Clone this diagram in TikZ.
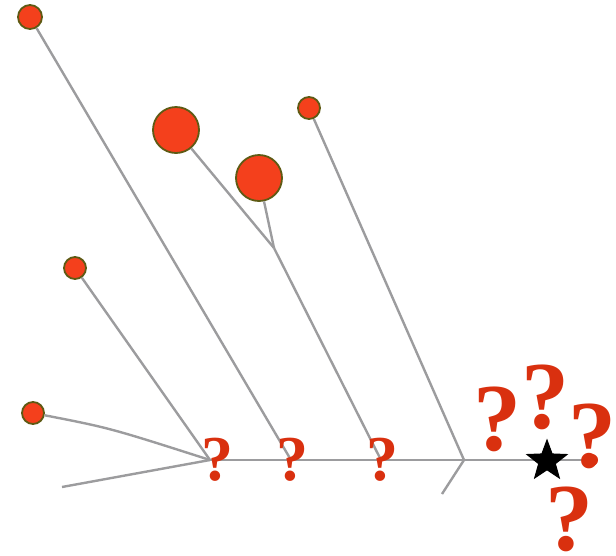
\documentclass[tikz,border=0pt]{standalone}
\usepackage{fontspec}
\newfontfamily\qfont{Liberation Serif}
\usetikzlibrary{shapes.geometric}
\definecolor{dotred}{HTML}{F4401C}
\definecolor{dotrim}{HTML}{5E5A14}
\definecolor{qred}{HTML}{D9300F}
\definecolor{linegrey}{HTML}{9C9C9E}
\tikzset{
  dot/.style={circle,fill=dotred,draw=dotrim,line width=1.8pt,inner sep=0pt,minimum size=#1},
  branch/.style={draw=linegrey,line width=2.4pt},
  qsmall/.style={text=qred,inner sep=0pt,anchor=base,text depth=0pt,font=\qfont\bfseries\fontsize{64}{64}\selectfont},
  qbig/.style={text=qred,inner sep=0pt,anchor=base,text depth=0pt,font=\qfont\bfseries\fontsize{96}{96}\selectfont},
}
\begin{document}
\begin{tikzpicture}[x=1pt,y=-1pt]
\useasboundingbox (0,0) rectangle (616,555);
% junction coordinates
\coordinate (j1) at (210,460);
\coordinate (j2) at (291,460);
\coordinate (j3) at (381,460);
\coordinate (j4) at (464,460);
\coordinate (jm) at (274,248);
\coordinate (tail) at (62,487);
\coordinate (kink) at (442,494);
% dots
\node[dot=24pt] (d1) at (30,17) {};
\node[dot=46pt] (d2) at (176,130) {};
\node[dot=46pt] (d3) at (259,178) {};
\node[dot=22pt] (d4) at (309,108) {};
\node[dot=22pt] (d5) at (75,268) {};
\node[dot=22pt] (d6) at (33,413) {};
\node[dot=12pt,draw=none,fill=qred] (end) at (592,460) {};
% connectors
\draw[branch] (j1) -- (end);
\draw[branch] (j1) -- (tail);
\draw[branch] (d6) .. controls (110,428) .. (j1);
\draw[branch] (d5) -- (j1);
\draw[branch] (d1) -- (j2);
\draw[branch] (d2) -- (jm);
\draw[branch] (d3) -- (jm);
\draw[branch] (jm) -- (j3);
\draw[branch] (d4) -- (j4);
\draw[branch] (j4) -- (kink);
% star
\node[star,star points=5,star point ratio=2.4,fill=black,draw=black,line width=1pt,minimum size=42pt,inner sep=0pt] (st) at (547,461) {};
% question marks
\node[qsmall] (q1) at (217,480) {?};
\node[qsmall] (q2) at (292,480) {?};
\node[qsmall] (q3) at (382,480) {?};
\node[qbig] (q4) at (497,450) {?};
\node[qbig] (q5) at (545,428) {?};
\node[qbig] (q6) at (592,467) {?};
\node[qbig] (q7) at (569,550) {?};
\end{tikzpicture}
\end{document}
